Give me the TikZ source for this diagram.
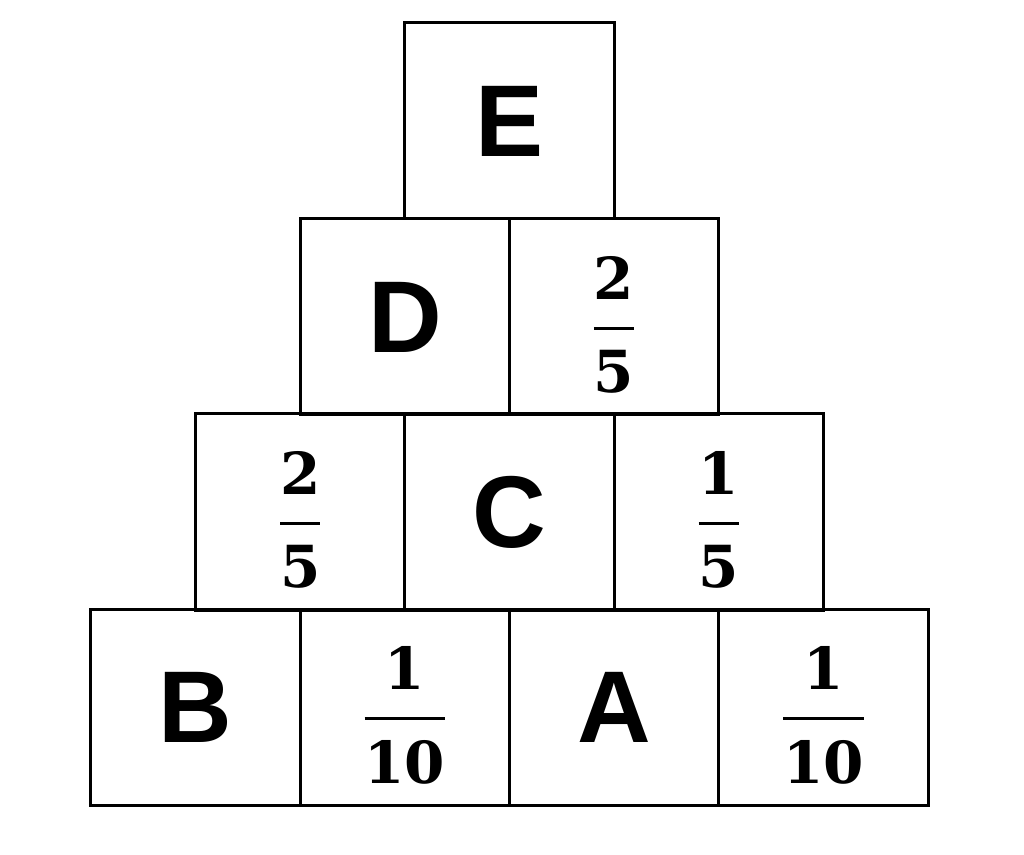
\documentclass[tikz,border=0pt]{standalone}
\usepackage{amsmath}
\usepackage{fontspec}
\setmainfont{DejaVu Serif}
\setsansfont{Liberation Sans}
\tikzset{cell/.style={draw, line width=3pt, minimum width=209.25pt, minimum height=196pt, inner sep=0pt, outer sep=0pt}}
\newcommand{\lett}[1]{{\fontsize{102}{110}\selectfont\sffamily\bfseries #1}}
% struts give the fraction its open look
\newcommand{\frc}[2]{{\fontsize{58}{64}\selectfont\nulldelimiterspace=0pt$\genfrac{}{}{3pt}{0}{\textbf{#1}\rule[-18.5pt]{0pt}{77pt}}{\rule{0pt}{54pt}\textbf{#2}}$}}
\begin{document}
\begin{tikzpicture}[x=1pt,y=1pt]
\useasboundingbox (0,0) rectangle (1024,854);
% bottom row
\node[cell] (b1) at (195.6,146.5) {\lett{B}};
\node[cell] (b2) at (404.9,146.5) {\frc{1}{10}};
\node[cell] (b3) at (614.1,146.5) {\lett{A}};
\node[cell] (b4) at (823.4,146.5) {\frc{1}{10}};
% third row
\node[cell] (c1) at (300.3,342) {\frc{2}{5}};
\node[cell] (c2) at (509.5,342) {\lett{C}};
\node[cell] (c3) at (718.8,342) {\frc{1}{5}};
% second row
\node[cell] (d1) at (404.9,537) {\lett{D}};
\node[cell] (d2) at (614.1,537) {\frc{2}{5}};
% top
\node[cell] (e1) at (509.5,733) {\lett{E}};
\end{tikzpicture}
\end{document}
